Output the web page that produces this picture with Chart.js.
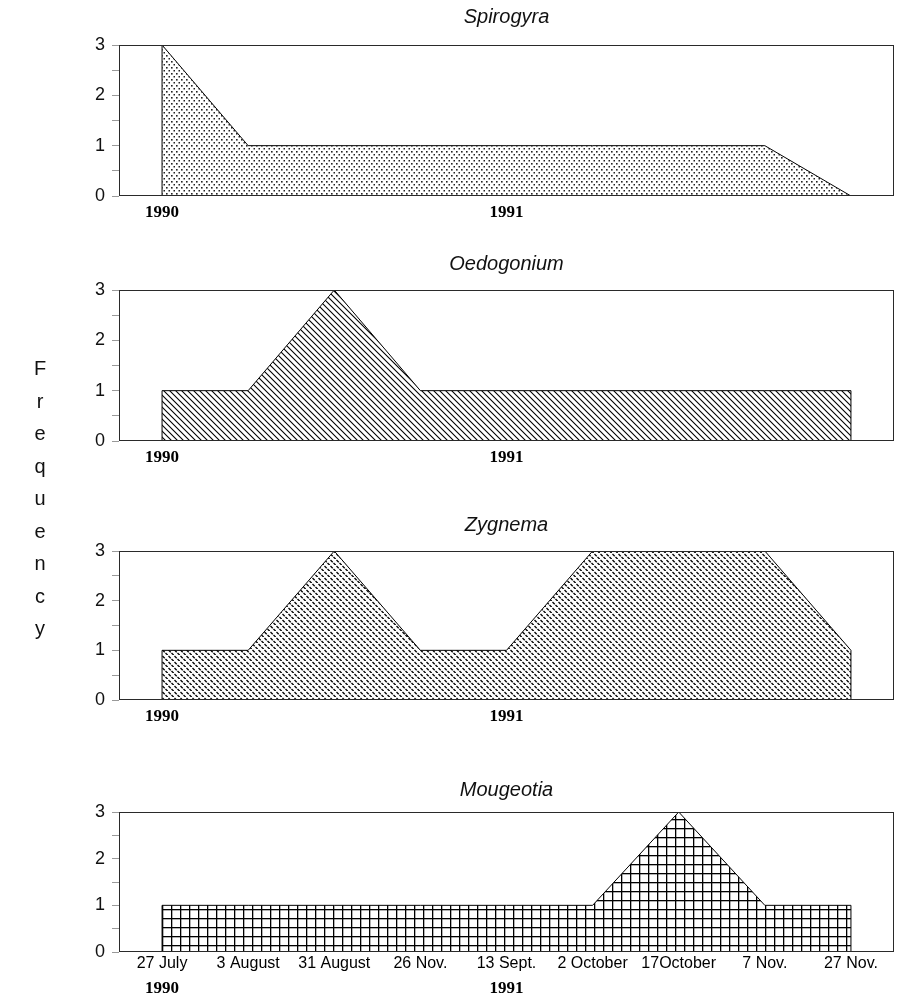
<!DOCTYPE html>
<html>
<head>
<meta charset="utf-8">
<script src="https://cdn.jsdelivr.net/npm/chart.js@4.4.1/dist/chart.umd.min.js"></script>
<style>
  html, body { margin: 0; padding: 0; background: #fff; }
  #wrap { position: relative; width: 900px; height: 999px; }
  #wrap canvas { position: absolute; left: 0; }
  #freq {
    position: absolute; left: 30px; top: 352px; width: 20px;
    font: 20px "Liberation Sans", Arial, sans-serif; color: #111;
    text-align: center; line-height: 32.5px;
  }
</style>
</head>
<body>
<div id="wrap">
  <canvas id="c0" width="900" height="245" style="top:0px"></canvas>
  <canvas id="c1" width="900" height="260" style="top:245px"></canvas>
  <canvas id="c2" width="900" height="260" style="top:505px"></canvas>
  <canvas id="c3" width="900" height="234" style="top:765px"></canvas>
  <div id="freq"></div>
</div>
<script>
// sampling dates (as printed on the original axis)
const dates = ['27 July', '3 August', '31 August', '26 Nov.', '13 Sept.', '2 October', '17October', '7 Nov.', '27 Nov.'];
const years = ['1990', '', '', '', '1991', '', '', '', ''];
const yTicks = [0, 1, 2, 3];

const taxa = ['Spirogyra', 'Oedogonium', 'Zygnema', 'Mougeotia'];
const spirogyra = [3, 1, 1, 1, 1, 1, 1, 1, 0];
const oedogonium = [1, 1, 3, 1, 1, 1, 1, 1, 1];
const zygnema = [1, 1, 3, 1, 1, 3, 3, 3, 1];
const mougeotia = [1, 1, 1, 1, 1, 1, 3, 1, 1];

const yTitle = 'Frequency';

document.getElementById('freq').innerHTML = yTitle.split('').join('<br>');

// hatch fills like the printed figure
function makePattern(kind) {
  const c = document.createElement('canvas');
  let g;
  if (kind === 'dots') {
    c.width = 5; c.height = 6;
    g = c.getContext('2d');
    g.fillStyle = '#222';
    g.fillRect(1, 1, 1.6, 1.6);
    g.fillRect(3.5, 4, 1.5, 1.5);
  } else if (kind === 'diag') {
    const s = 6;
    c.width = s; c.height = s;
    g = c.getContext('2d');
    g.strokeStyle = '#000';
    g.lineWidth = 1.1;
    g.beginPath();
    g.moveTo(-1, -1); g.lineTo(s + 1, s + 1);
    g.moveTo(-1, s - 1); g.lineTo(1, s + 1);
    g.moveTo(s - 1, -1); g.lineTo(s + 1, 1);
    g.stroke();
  } else if (kind === 'dash') {
    c.width = 6; c.height = 6;
    g = c.getContext('2d');
    g.strokeStyle = '#000';
    g.lineWidth = 1.3;
    g.beginPath();
    g.moveTo(0.5, 1); g.lineTo(2.7, 3.2);
    g.moveTo(3.5, 4); g.lineTo(5.7, 6.2);
    g.stroke();
  } else {
    c.width = 9; c.height = 9;
    g = c.getContext('2d');
    g.fillStyle = '#000';
    g.fillRect(0, 0, 9, 1.3);
    g.fillRect(0, 0, 1.3, 9);
  }
  return g.createPattern(c, 'repeat');
}

const panelDecor = {
  id: 'panelDecor',
  afterDatasetsDraw(chart, args, opts) {
    const { ctx, chartArea: a, scales: { x, y } } = chart;
    const vals = chart.data.datasets[0].data;
    const n = vals.length - 1;
    ctx.save();
    // close the filled shape down to zero at both ends
    ctx.strokeStyle = '#000';
    ctx.lineWidth = 1;
    ctx.beginPath();
    ctx.moveTo(x.getPixelForValue(0), y.getPixelForValue(0));
    ctx.lineTo(x.getPixelForValue(0), y.getPixelForValue(vals[0]));
    ctx.moveTo(x.getPixelForValue(n), y.getPixelForValue(0));
    ctx.lineTo(x.getPixelForValue(n), y.getPixelForValue(vals[n]));
    ctx.stroke();
    // box round the plot
    ctx.strokeStyle = '#2a2a2a';
    ctx.strokeRect(a.left + 0.5, a.top + 0.5, a.width - 1, a.height - 1);
    // panel title
    ctx.fillStyle = '#111';
    ctx.font = 'italic 20px "Liberation Sans", Arial, sans-serif';
    ctx.textAlign = 'center';
    ctx.textBaseline = 'middle';
    ctx.fillText(opts.title, (a.left + a.right) / 2, opts.titleY);
    // year row under the date labels (bottom panel only)
    if (opts.yearRow) {
      ctx.fillStyle = '#000';
      ctx.font = 'bold 17px "Liberation Serif", "Times New Roman", serif';
      years.forEach((yr, i) => {
        if (yr) ctx.fillText(yr, x.getPixelForValue(i), a.bottom + 37);
      });
    }
    ctx.restore();
  }
};

function makePanel(id, values, fill, title, titleY, padTop, xHeight, last) {
  return new Chart(document.getElementById(id), {
    type: 'line',
    data: {
      labels: dates,
      datasets: [{
        data: values,
        fill: 'origin',
        backgroundColor: fill,
        borderColor: '#000',
        borderWidth: 1,
        pointRadius: 0,
        tension: 0
      }]
    },
    options: {
      responsive: false,
      animation: false,
      layout: { padding: { left: 77, right: 6, top: padTop, bottom: 0 } },
      scales: {
        x: {
          type: 'category',
          offset: true,
          grid: { display: false, drawTicks: false },
          border: { display: false },
          ticks: {
            autoSkip: false,
            maxRotation: 0,
            padding: last ? 2 : 6,
            color: '#000',
            font: last
              ? { family: '"Liberation Sans", Arial, sans-serif', size: 16 }
              : { family: '"Liberation Serif", "Times New Roman", serif', size: 17, weight: 'bold' },
            callback: (v, i) => last ? dates[i] : years[i]
          },
          afterFit: (s) => { s.height = xHeight; }
        },
        y: {
          min: 0,
          max: 3,
          grid: { drawOnChartArea: false, drawTicks: true, tickLength: 7, color: '#999' },
          border: { display: false },
          ticks: {
            stepSize: 0.5,
            autoSkip: false,
            padding: 7,
            color: '#111',
            font: { family: '"Liberation Sans", Arial, sans-serif', size: 18 },
            callback: (v) => yTicks.includes(v) ? String(v) : ''
          },
          afterFit: (s) => { s.width = 42; }
        }
      },
      plugins: {
        legend: { display: false },
        tooltip: { enabled: false },
        panelDecor: { title: title, titleY: titleY, yearRow: last }
      }
    },
    plugins: [panelDecor]
  });
}

makePanel('c0', spirogyra, makePattern('dots'), taxa[0], 17, 45, 49, false);
makePanel('c1', oedogonium, makePattern('diag'), taxa[1], 19, 45, 64, false);
makePanel('c2', zygnema, makePattern('dash'), taxa[2], 20, 46, 65, false);
makePanel('c3', mougeotia, makePattern('grid'), taxa[3], 25, 47, 47, true);
</script>
</body>
</html>
